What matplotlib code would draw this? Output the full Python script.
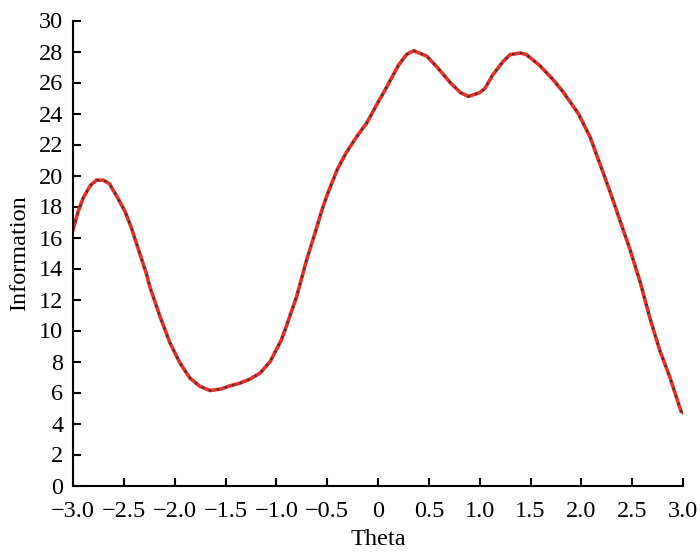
import matplotlib
matplotlib.use('Agg')
import matplotlib.pyplot as plt

plt.rcParams['font.family'] = ['Liberation Serif', 'DejaVu Serif']

# values
theta = [-3.0, -2.948, -2.90, -2.83, -2.77, -2.70, -2.64, -2.56, -2.49, -2.43,
         -2.36, -2.28, -2.243, -2.144, -2.046, -1.948, -1.85, -1.75, -1.653, -1.55,
         -1.456, -1.36, -1.26, -1.16, -1.06, -0.95, -0.90, -0.80,
         -0.70, -0.60, -0.55, -0.50, -0.40, -0.31, -0.21, -0.11, -0.01, 0.085,
         0.20, 0.28, 0.35, 0.48, 0.58, 0.71, 0.81, 0.89, 1.00, 1.05,
         1.13, 1.23, 1.30, 1.40, 1.46, 1.59, 1.72, 1.82, 1.97, 2.085,
         2.18, 2.28, 2.38, 2.48, 2.58, 2.67, 2.77, 2.87, 2.98, 3.0]
info = [16.5, 17.7, 18.55, 19.35, 19.7, 19.7, 19.45, 18.55, 17.7, 16.7,
        15.3, 13.7, 12.8, 10.9, 9.2, 7.9, 6.93, 6.39, 6.13, 6.22,
        6.43, 6.6, 6.86, 7.25, 8.0, 9.4, 10.3, 12.2,
        14.6, 16.7, 17.8, 18.75, 20.4, 21.5, 22.5, 23.4, 24.6, 25.7,
        27.1, 27.8, 28.05, 27.7, 27.0, 26.0, 25.35, 25.1, 25.35, 25.6,
        26.5, 27.35, 27.8, 27.9, 27.8, 27.1, 26.2, 25.4, 24.0, 22.5,
        20.8, 19.0, 17.1, 15.2, 13.1, 10.9, 8.75, 7.0, 4.8, 4.7]

xticks = [-3.0, -2.5, -2.0, -1.5, -1.0, -0.5, 0, 0.5, 1.0, 1.5, 2.0, 2.5, 3.0]
xlabels = ['\u22123.0', '\u22122.5', '\u22122.0', '\u22121.5', '\u22121.0', '\u22120.5',
           '0', '0.5', '1.0', '1.5', '2.0', '2.5', '3.0']
yticks = list(range(0, 31, 2))

fig = plt.figure(figsize=(7, 5.56), dpi=100)
ax = fig.add_axes([73 / 700, (556 - 485.5) / 556, 610 / 700, 465 / 556])

ax.plot(theta, info, color='#e8302a', linewidth=2.6)
ax.plot(theta, info, color='#333333', linewidth=1.6, linestyle=(0, (1, 2.6)),
        dash_capstyle='butt')

ax.set_xlim(-3.0, 3.0)
ax.set_ylim(0, 30)
ax.set_xticks(xticks)
ax.set_xticklabels(xlabels)
ax.set_yticks(yticks)
ax.spines['top'].set_visible(False)
ax.spines['right'].set_visible(False)
for s in ['left', 'bottom']:
    ax.spines[s].set_linewidth(1.5)
ax.tick_params(direction='in', length=6, width=1.5, labelsize=17.5)
ax.tick_params(axis='x', pad=11.5)
ax.tick_params(axis='y', pad=7)
ax.set_xlabel('Theta', fontsize=17.5, labelpad=5)
ax.set_ylabel('Information', fontsize=17.5, labelpad=6)

fig.savefig('out.png', dpi=100)
